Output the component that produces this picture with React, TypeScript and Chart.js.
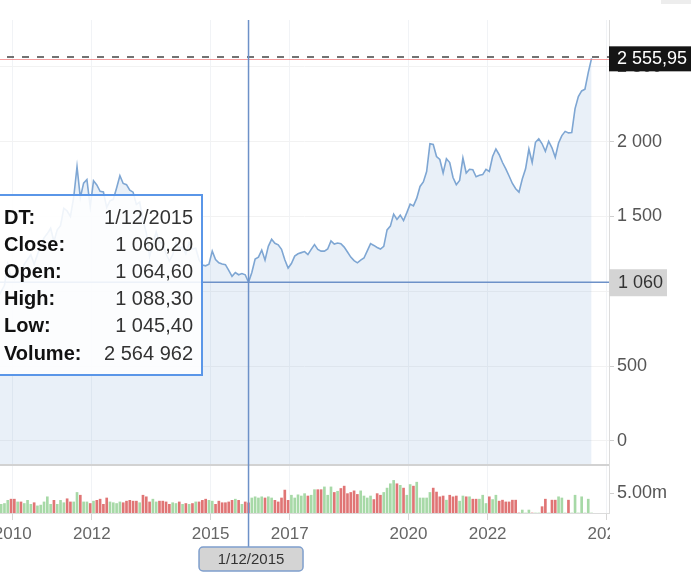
import React, { useEffect, useRef } from "react";
import { Chart, registerables } from "chart.js";

Chart.register(...registerables);

// ---------- data ----------
const START_YEAR = 2009;
const START_MONTH = 8; // first monthly point: August 2009

// monthly closes (Aug 2009 ... Aug 2024)
const closes = [
  955, 1000, 1040, 1180, 1095,
  1080, 1115, 1112, 1180, 1212, 1244, 1180, 1246, 1307, 1357, 1385, 1420,
  1332, 1410, 1438, 1555, 1536, 1500, 1628, 1832, 1625, 1722, 1746, 1565,
  1738, 1710, 1668, 1663, 1560, 1604, 1614, 1690, 1772, 1720, 1712, 1675,
  1662, 1580, 1596, 1475, 1392, 1234, 1313, 1396, 1327, 1323, 1250, 1202,
  1244, 1326, 1284, 1296, 1250, 1327, 1282, 1287, 1210, 1175, 1170, 1180,
  1268, 1212, 1190, 1182, 1178, 1140, 1100, 1125, 1110, 1118, 1110, 1060.2,
  1125, 1215, 1228, 1275, 1208, 1300, 1347, 1320, 1310, 1280, 1210, 1155,
  1185, 1235, 1250, 1258, 1265, 1245, 1280, 1312, 1280, 1268, 1268, 1282,
  1336, 1315, 1322, 1318, 1295, 1262, 1228, 1205, 1190, 1208, 1222, 1270,
  1318, 1306, 1292, 1282, 1300, 1410, 1435, 1515, 1480, 1508, 1472, 1525,
  1582, 1570, 1622, 1700, 1730, 1800, 1985, 1980, 1900, 1880, 1790, 1885,
  1860, 1760, 1712, 1740, 1890, 1790, 1815, 1812, 1765, 1775, 1779, 1815,
  1801, 1900, 1950, 1912, 1860, 1818, 1770, 1720, 1685, 1662, 1750, 1818,
  1950, 1860, 1995, 2018, 1985, 1935, 2002, 1958, 1895, 1990, 2040, 2068,
  2058, 2060, 2220, 2300, 2338, 2350, 2460, 2555.95,
];

// monthly volume in millions
const volumesM = [
  2.0, 2.2, 2.4, 3.2, 3.5,
  3.5, 2.8, 2.8, 2.4, 3.2, 2.2, 2.6, 1.8, 2.0, 2.8, 4.1, 2.2,
  3.2, 2.2, 3.2, 2.6, 3.6, 2.8, 2.8, 5.2, 4.5, 2.8, 2.8, 2.4,
  3.0, 3.2, 3.5, 2.2, 3.8, 2.8, 2.6, 2.4, 2.8, 2.6, 3.0, 3.2,
  3.0, 3.0, 2.6, 4.5, 4.1, 2.8, 3.5, 2.8, 3.0, 3.0, 2.8, 2.2,
  2.6, 2.4, 2.8, 2.2, 2.4, 2.2, 2.4, 2.8, 2.8, 3.2, 3.5, 3.2,
  3.0, 2.2, 3.0, 2.6, 2.6, 2.8, 3.2, 3.5, 3.2, 2.2, 2.8, 2.56,
  3.8, 4.1, 3.8, 4.1, 3.8, 4.1, 3.8, 3.2, 2.8, 3.8, 5.8, 3.2,
  4.5, 3.8, 4.6, 4.3, 4.9, 4.3, 4.5, 5.9, 5.9, 5.9, 6.6, 4.5,
  6.6, 5.2, 5.5, 6.2, 6.8, 4.9, 5.2, 5.6, 4.7, 5.6, 4.3, 3.8,
  4.3, 3.4, 4.9, 4.5, 5.2, 6.3, 7.4, 8.25, 7.4, 7.0, 6.3, 4.5,
  7.2, 6.8, 7.8, 3.8, 3.8, 3.8, 5.2, 6.3, 5.3, 4.1, 4.3, 3.25,
  4.5, 4.1, 4.3, 3.0, 4.3, 4.1, 4.1, 3.5, 3.5, 3.5, 4.5, 2.4,
  4.1, 3.4, 4.5, 3.0, 3.25, 2.8, 2.8, 3.25, 3.25, 0, 0.75, 0,
  0.75, 0, 0, 0, 1.6, 3.5, 0, 3.25, 3.25, 4.1, 3.8, 0,
  3.25, 0, 4.5, 0, 4.1, 0, 3.5, 0,
];

const xTickYears = [2010, 2012, 2015, 2017, 2020, 2022, 2025];
const priceTicks = [0, 500, 1000, 1500, 2000, 2500];
const volumeTicks = [5000000];
const volumeTickLabels = ["5.00m"];

const lastPrice = 2555.95;
const lastPriceLabel = "2 555,95";
const crossYear = 2015;
const crossMonth = 12;
const crossPrice = 1060.2;
const crossPriceLabel = "1 060";
const crossDateLabel = "1/12/2015";
const tooltipLabels = ["DT:", "Close:", "Open:", "High:", "Low:", "Volume:"];
const tooltipValues = ["1/12/2015", "1 060,20", "1 064,60", "1 088,30", "1 045,40", "2 564 962"];

// ---------- helpers ----------
const FONT = "'Liberation Sans', Arial, Helvetica, sans-serif";
const monthX = (i: number) => START_YEAR + (START_MONTH - 1 + i + 0.5) / 12;
const fmtPrice = (v: number) =>
  v >= 1000 ? `${Math.floor(v / 1000)} ${String(v % 1000).padStart(3, "0")}` : String(v);

const overlayPlugin = {
  id: "overlay",
  afterDraw(chart: any) {
    const ctx = chart.ctx as CanvasRenderingContext2D;
    const xs = chart.scales.x;
    const ys = chart.scales.y;
    const area = chart.chartArea;
    const right = area.right;
    ctx.save();

    // separator between price and volume panels
    const sepY = ys.bottom + 1;
    ctx.strokeStyle = "#d2d2d2";
    ctx.lineWidth = 2;
    ctx.beginPath();
    ctx.moveTo(0, sepY);
    ctx.lineTo(right, sepY);
    ctx.stroke();

    // last price lines
    const yLast = ys.getPixelForValue(lastPrice);
    ctx.strokeStyle = "rgba(240,120,120,0.7)";
    ctx.lineWidth = 1;
    ctx.beginPath();
    ctx.moveTo(0, Math.round(yLast) + 1.5);
    ctx.lineTo(right, Math.round(yLast) + 1.5);
    ctx.stroke();
    ctx.strokeStyle = "#444";
    ctx.lineWidth = 1.5;
    ctx.setLineDash([7, 8]);
    ctx.beginPath();
    ctx.moveTo(7, Math.round(yLast) - 1);
    ctx.lineTo(right, Math.round(yLast) - 1);
    ctx.stroke();
    ctx.setLineDash([]);

    // crosshair
    const ci = (crossYear - START_YEAR) * 12 + (crossMonth - START_MONTH);
    const cx = xs.getPixelForValue(monthX(ci));
    const cy = ys.getPixelForValue(crossPrice);
    ctx.strokeStyle = "#6d91c8";
    ctx.lineWidth = 1.5;
    ctx.beginPath();
    ctx.moveTo(cx, area.top);
    ctx.lineTo(cx, 547);
    ctx.moveTo(0, cy);
    ctx.lineTo(right, cy);
    ctx.stroke();

    // tooltip box
    ctx.fillStyle = "rgba(255,255,255,0.88)";
    ctx.fillRect(-2, 195, 204, 180);
    ctx.strokeStyle = "#5a96e8";
    ctx.lineWidth = 2;
    ctx.strokeRect(-2, 195, 204, 180);
    ctx.textBaseline = "middle";
    tooltipLabels.forEach((lab, r) => {
      const ty = 218 + r * 27.2;
      ctx.font = `bold 20px ${FONT}`;
      ctx.fillStyle = "#111";
      ctx.textAlign = "left";
      ctx.fillText(lab, 4, ty);
      ctx.font = `20px ${FONT}`;
      ctx.fillStyle = "#333";
      ctx.textAlign = "right";
      ctx.fillText(tooltipValues[r], 193, ty);
    });

    // right-side value labels
    ctx.textAlign = "left";
    ctx.font = `18px ${FONT}`;
    ctx.fillStyle = "#d4d4d4";
    ctx.fillRect(right, cy - 13, 58, 27);
    ctx.fillStyle = "#333";
    ctx.fillText(crossPriceLabel, right + 9, cy + 1);

    ctx.fillStyle = "#151515";
    ctx.fillRect(right, yLast - 12, 82, 25);
    ctx.fillStyle = "#fff";
    ctx.fillText(lastPriceLabel, right + 8, yLast + 1);

    // clip the last x tick label at the axis edge
    ctx.fillStyle = "#fff";
    ctx.fillRect(right + 1, area.bottom + 1, 100, 34);

    // date label under crosshair
    const bx = cx + 2.5 - 52;
    const by = 547;
    ctx.fillStyle = "#d4d4d4";
    ctx.strokeStyle = "#7f9fcd";
    ctx.lineWidth = 1.5;
    ctx.beginPath();
    (ctx as any).roundRect(bx, by, 104, 24, 4);
    ctx.fill();
    ctx.stroke();
    ctx.fillStyle = "#333";
    ctx.font = `15px ${FONT}`;
    ctx.textAlign = "center";
    ctx.fillText(crossDateLabel, bx + 52, by + 12.5);

    // small grey tab at top right
    ctx.fillStyle = "#ededed";
    ctx.fillRect(661, 0, 30, 4);

    ctx.restore();
  },
};

export default function App() {
  const ref = useRef<HTMLCanvasElement | null>(null);

  useEffect(() => {
    if (!ref.current) return;
    const priceData = closes.map((c, i) => ({ x: monthX(i), y: c }));
    const volData = volumesM.map((v, i) => ({ x: monthX(i), y: v * 1e6 }));
    const volColors = closes.map((c, i) =>
      i === 0 || c >= closes[i - 1] ? "#a7d9a7" : "#e07575"
    );

    const chart = new Chart(ref.current, {
      type: "line",
      data: {
        datasets: [
          {
            type: "line",
            data: priceData,
            borderColor: "#7ea6d3",
            borderWidth: 1.6,
            backgroundColor: "rgba(120,160,210,0.16)",
            fill: "start",
            pointRadius: 0,
            tension: 0,
            xAxisID: "x",
            yAxisID: "y",
            order: 1,
          } as any,
          {
            type: "bar",
            data: volData,
            backgroundColor: volColors,
            barThickness: 2,
            xAxisID: "x",
            yAxisID: "yv",
            order: 2,
          } as any,
        ],
      },
      options: {
        animation: false,
        responsive: false,
        devicePixelRatio: 1,
        layout: { padding: { top: 20, left: 0, right: 0, bottom: 0 } },
        plugins: { legend: { display: false }, tooltip: { enabled: false } },
        scales: {
          x: {
            type: "linear",
            offset: false,
            min: 2009.679,
            max: 2025.066,
            afterBuildTicks: (s: any) => {
              s.ticks = xTickYears.map((v) => ({ value: v }));
            },
            afterFit: (s: any) => {
              s.height = 67;
              s.paddingLeft = 0;
              s.paddingRight = 0;
            },
            ticks: {
              callback: (v: any) => String(v),
              autoSkip: false,
              maxRotation: 0,
              padding: 4,
              color: "#666",
              font: { family: FONT, size: 17 },
            },
            grid: { color: "#f1f3f6", tickColor: "#d6d6d6", tickLength: 7, offset: false },
            border: { color: "#dcdcdc" },
          },
          y: {
            type: "linear",
            position: "right",
            stack: "main",
            stackWeight: 444,
            min: -154,
            max: 2812,
            afterBuildTicks: (s: any) => {
              s.ticks = priceTicks.map((v) => ({ value: v }));
            },
            afterFit: (s: any) => {
              s.width = 82;
              s.paddingTop = 0;
              s.paddingBottom = 0;
            },
            ticks: {
              callback: (v: any) => fmtPrice(Number(v)),
              padding: 3,
              color: "#555",
              font: { family: FONT, size: 18 },
            },
            grid: { color: "#f2f2f2", tickColor: "#cfcfcf", tickLength: 5 },
            border: { color: "#dcdcdc" },
          },
          yv: {
            type: "linear",
            position: "right",
            stack: "main",
            stackWeight: 49,
            min: 0,
            max: 12.4e6,
            afterBuildTicks: (s: any) => {
              s.ticks = volumeTicks.map((v) => ({ value: v }));
            },
            afterFit: (s: any) => {
              s.width = 82;
              s.paddingTop = 0;
              s.paddingBottom = 0;
            },
            ticks: {
              callback: (_v: any, idx: number) => volumeTickLabels[idx],
              padding: 3,
              color: "#555",
              font: { family: FONT, size: 18 },
            },
            grid: { drawOnChartArea: false, tickColor: "#cfcfcf", tickLength: 5 },
            border: { color: "#dcdcdc" },
          },
        },
      } as any,
      plugins: [overlayPlugin],
    });
    return () => chart.destroy();
  }, []);

  return (
    <div style={{ position: "fixed", left: 0, top: 0, width: 691, height: 580, background: "#fff" }}>
      <canvas ref={ref} width={691} height={580} style={{ width: 691, height: 580, display: "block" }} />
    </div>
  );
}
